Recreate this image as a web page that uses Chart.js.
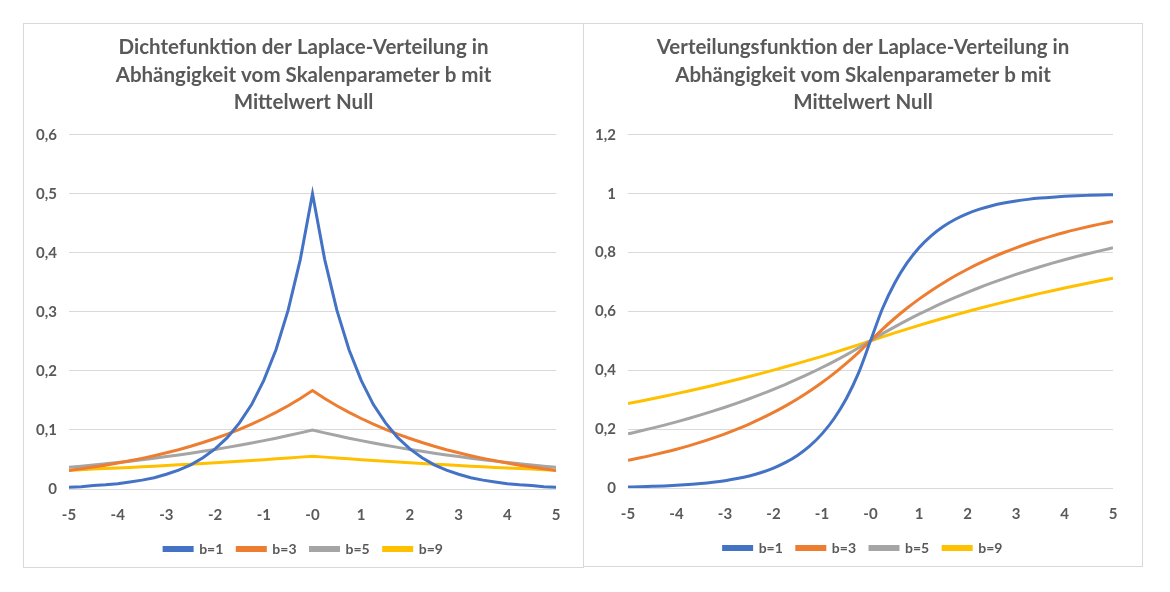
<!DOCTYPE html>
<html>
<head>
<meta charset="utf-8">
<script src="https://cdn.jsdelivr.net/npm/chart.js@4"></script>
<style>
  body { margin: 0; background: #fff; width: 1170px; height: 592px; position: relative; overflow: hidden; }
  .box { position: absolute; border: 1px solid #d9d9d9; box-sizing: border-box; background: #fff; }
  .box canvas { position: absolute; left: 0; top: 0; }
</style>
</head>
<body>
<div class="box" style="left:23px; top:23px; width:561px; height:545px;">
  <canvas id="densityChart" width="559" height="543"></canvas>
</div>
<div class="box" style="left:583px; top:23px; width:560px; height:544px;">
  <canvas id="cdfChart" width="558" height="542"></canvas>
</div>
<script>
// --- DATA ---
const xValues = [-5, -4.75, -4.5, -4.25, -4, -3.75, -3.5, -3.25, -3, -2.75, -2.5, -2.25, -2, -1.75, -1.5, -1.25, -1, -0.75, -0.5, -0.25,
  0, 0.25, 0.5, 0.75, 1, 1.25, 1.5, 1.75, 2, 2.25, 2.5, 2.75, 3, 3.25, 3.5, 3.75, 4, 4.25, 4.5, 4.75, 5];

const seriesNames = ['b=1', 'b=3', 'b=5', 'b=9'];

// density (Dichte)
const densB1 = [0.003, 0.004, 0.006, 0.007, 0.009, 0.012, 0.015, 0.019, 0.025, 0.032, 0.041, 0.053, 0.068, 0.087, 0.112, 0.143, 0.184, 0.236, 0.303, 0.389,
  0.5, 0.389, 0.303, 0.236, 0.184, 0.143, 0.112, 0.087, 0.068, 0.053, 0.041, 0.032, 0.025, 0.019, 0.015, 0.012, 0.009, 0.007, 0.006, 0.004, 0.003];
const densB3 = [0.0315, 0.0342, 0.0372, 0.0404, 0.0439, 0.0478, 0.0519, 0.0564, 0.0613, 0.0666, 0.0724, 0.0787, 0.0856, 0.0930, 0.1011, 0.1099, 0.1194, 0.1298, 0.1411, 0.1533,
  0.1667, 0.1533, 0.1411, 0.1298, 0.1194, 0.1099, 0.1011, 0.0930, 0.0856, 0.0787, 0.0724, 0.0666, 0.0613, 0.0564, 0.0519, 0.0478, 0.0439, 0.0404, 0.0372, 0.0342, 0.0315];
const densB5 = [0.0368, 0.0387, 0.0407, 0.0427, 0.0449, 0.0472, 0.0497, 0.0522, 0.0549, 0.0577, 0.0607, 0.0638, 0.0670, 0.0705, 0.0741, 0.0779, 0.0819, 0.0861, 0.0905, 0.0951,
  0.1, 0.0951, 0.0905, 0.0861, 0.0819, 0.0779, 0.0741, 0.0705, 0.0670, 0.0638, 0.0607, 0.0577, 0.0549, 0.0522, 0.0497, 0.0472, 0.0449, 0.0427, 0.0407, 0.0387, 0.0368];
const densB9 = [0.0319, 0.0328, 0.0337, 0.0346, 0.0356, 0.0366, 0.0377, 0.0387, 0.0398, 0.0409, 0.0421, 0.0433, 0.0445, 0.0457, 0.0470, 0.0484, 0.0497, 0.0511, 0.0526, 0.0540,
  0.0556, 0.0540, 0.0526, 0.0511, 0.0497, 0.0484, 0.0470, 0.0457, 0.0445, 0.0433, 0.0421, 0.0409, 0.0398, 0.0387, 0.0377, 0.0366, 0.0356, 0.0346, 0.0337, 0.0328, 0.0319];

// distribution function (Verteilung)
const cdfB1 = [0.0034, 0.0043, 0.0056, 0.0071, 0.0092, 0.0118, 0.0151, 0.0194, 0.0249, 0.0320, 0.0410, 0.0527, 0.0677, 0.0869, 0.1116, 0.1433, 0.1839, 0.2362, 0.3033, 0.3894,
  0.5, 0.6106, 0.6967, 0.7638, 0.8161, 0.8567, 0.8884, 0.9131, 0.9323, 0.9473, 0.9590, 0.9680, 0.9751, 0.9806, 0.9849, 0.9882, 0.9908, 0.9929, 0.9944, 0.9957, 0.9966];
const cdfB3 = [0.0944, 0.1026, 0.1116, 0.1213, 0.1318, 0.1433, 0.1557, 0.1692, 0.1839, 0.1999, 0.2173, 0.2362, 0.2567, 0.2790, 0.3033, 0.3296, 0.3583, 0.3894, 0.4233, 0.4600,
  0.5, 0.5400, 0.5767, 0.6106, 0.6417, 0.6704, 0.6967, 0.7210, 0.7433, 0.7638, 0.7827, 0.8001, 0.8161, 0.8308, 0.8443, 0.8567, 0.8682, 0.8787, 0.8884, 0.8974, 0.9056];
const cdfB5 = [0.1839, 0.1934, 0.2033, 0.2137, 0.2247, 0.2362, 0.2483, 0.2610, 0.2744, 0.2885, 0.3033, 0.3188, 0.3352, 0.3524, 0.3704, 0.3894, 0.4094, 0.4304, 0.4524, 0.4756,
  0.5, 0.5244, 0.5476, 0.5696, 0.5906, 0.6106, 0.6296, 0.6476, 0.6648, 0.6812, 0.6967, 0.7115, 0.7256, 0.7390, 0.7517, 0.7638, 0.7753, 0.7863, 0.7967, 0.8066, 0.8161];
const cdfB9 = [0.2869, 0.2950, 0.3033, 0.3118, 0.3206, 0.3296, 0.3389, 0.3485, 0.3583, 0.3684, 0.3788, 0.3894, 0.4004, 0.4117, 0.4233, 0.4352, 0.4474, 0.4600, 0.4730, 0.4863,
  0.5, 0.5137, 0.5270, 0.5400, 0.5526, 0.5648, 0.5767, 0.5883, 0.5996, 0.6106, 0.6212, 0.6316, 0.6417, 0.6515, 0.6611, 0.6704, 0.6794, 0.6882, 0.6967, 0.7050, 0.7131];

const densityTitle = ['Dichtefunktion der Laplace-Verteilung in', 'Abhängigkeit vom Skalenparameter b mit', 'Mittelwert Null'];
const cdfTitle = ['Verteilungsfunktion der Laplace-Verteilung in', 'Abhängigkeit vom Skalenparameter b mit', 'Mittelwert Null'];

const colors = ['#4472C4', '#ED7D31', '#A5A5A5', '#FFC000'];
const textColor = '#595959';
const fontFamily = 'Lato, "Liberation Sans", sans-serif';

// --- CHART SETUP ---
function makeChart(id, title, seriesList, yMax, yStep, opt) {
    const datasets = seriesList.map((vals, i) => ({
        label: seriesNames[i],
        data: xValues.map((x, j) => ({ x: x, y: vals[j] })),
        borderColor: colors[i],
        backgroundColor: colors[i],
        borderWidth: 3,
        pointRadius: 0,
        tension: 0,
        cubicInterpolationMode: opt.smooth ? 'monotone' : 'default'
    }));

    new Chart(document.getElementById(id), {
        type: 'line',
        data: { datasets: datasets },
        options: {
            responsive: false,
            animation: false,
            layout: { padding: { left: 0, right: 0, top: 0, bottom: 1 } },
            plugins: {
                title: {
                    display: true,
                    text: title,
                    color: textColor,
                    font: { family: fontFamily, size: 20.5, weight: 'bold', lineHeight: 1.33 },
                    padding: { top: 10, bottom: 19 }
                },
                legend: {
                    position: 'bottom',
                    labels: {
                        color: textColor,
                        font: { family: fontFamily, size: 14, weight: 'bold' },
                        boxWidth: 28,
                        boxHeight: 3,
                        padding: 14
                    }
                },
                tooltip: { enabled: false }
            },
            scales: {
                x: {
                    type: 'linear',
                    min: -5,
                    max: 5,
                    grid: { display: false },
                    border: { display: false },
                    ticks: {
                        stepSize: 1,
                        color: textColor,
                        padding: 9,
                        font: { family: fontFamily, size: 15, weight: 'bold' },
                        callback: v => (v === 0 ? '-0' : String(v))
                    },
                    afterFit: s => { s.height = 39; }
                },
                y: {
                    min: 0,
                    max: yMax,
                    grid: { color: '#d9d9d9', lineWidth: 1, drawTicks: false },
                    border: { display: false },
                    ticks: {
                        stepSize: yStep,
                        color: textColor,
                        padding: opt.tick,
                        font: { family: fontFamily, size: 15, weight: 'bold' },
                        callback: v => String(Math.round(v * 10) / 10).replace('.', ',')
                    },
                    afterFit: s => { s.width = opt.left; }
                },
                // empty right-hand axis, only keeps the plot area clear of the right border
                yRight: {
                    position: 'right',
                    grid: { display: false },
                    border: { display: false },
                    ticks: { display: false },
                    afterFit: s => { s.width = opt.right; }
                }
            }
        }
    });
}

document.addEventListener('DOMContentLoaded', () => {
    makeChart('densityChart', densityTitle, [densB1, densB3, densB5, densB9], 0.6, 0.1, { left: 45, right: 27, tick: 12, smooth: false });
    makeChart('cdfChart', cdfTitle, [cdfB1, cdfB3, cdfB5, cdfB9], 1.2, 0.2, { left: 44, right: 29, tick: 12, smooth: true });
});
</script>
</body>
</html>
